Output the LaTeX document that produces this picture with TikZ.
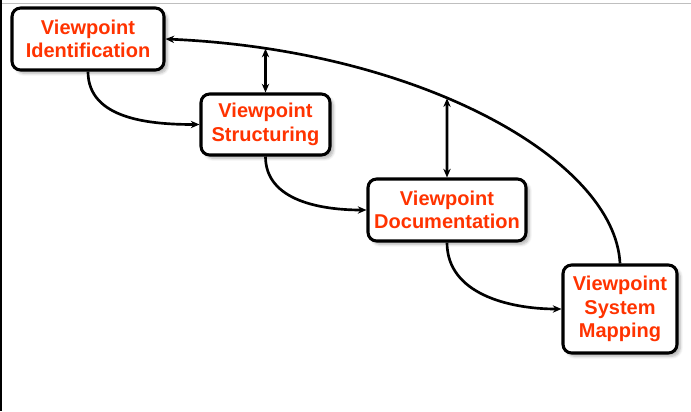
\documentclass[tikz,border=0pt]{standalone}
\usepackage{fontspec}
\setmainfont{Liberation Sans}
\usetikzlibrary{arrows.meta,intersections,shadows.blur}
\definecolor{vptext}{RGB}{255,51,0}
\tikzset{
  vpbox/.style={draw=black, line width=2.3pt, rounded corners=6.5pt, fill=white,
    align=center, inner sep=0pt, text=vptext,
    font=\fontsize{15}{17.5}\selectfont\bfseries,
    blur shadow={shadow xshift=2.5pt, shadow yshift=-2.5pt, shadow blur steps=6, shadow opacity=30}},
  vpflow/.style={line width=2pt, -{Stealth[length=6.5pt,width=5.5pt]}},
  vpdouble/.style={line width=2pt, {Stealth[length=6.5pt,width=5.5pt]}-{Stealth[length=6.5pt,width=5.5pt]}},
}
\begin{document}
\begin{tikzpicture}[x=0.75pt,y=-0.75pt]
\useasboundingbox (0,0) rectangle (691,411);
\draw[line width=1.2pt, black!25] (0,3.5) -- (691,3.5);
\draw[line width=1.5pt, black] (0.75,0) -- (0.75,411);

\node[vpbox, minimum width=114pt, minimum height=46.5pt] (n1) at (88,39) {Viewpoint\\Identification};
\node[vpbox, minimum width=96.75pt, minimum height=45.75pt] (n2) at (265.5,124.5) {Viewpoint\\Structuring};
\node[vpbox, minimum width=118.5pt, minimum height=46.5pt] (n3) at (447,210) {Viewpoint\\Documentation};
\node[vpbox, minimum width=85.5pt, minimum height=66pt] (n4) at (620,309) {Viewpoint\\System\\Mapping};

\draw[vpflow] (n1.south) to[out=-90,in=180] (n2.west);
\draw[vpflow] (n2.south) to[out=-90,in=180] (n3.west);
\draw[vpflow] (n3.south) to[out=-90,in=180] (n4.west);

\draw[vpflow, name path=arc] (n4.north) .. controls (615,160) and (420,50) .. (n1.east);

\path[name path=v2] (n2.north) -- ++(0,-120);
\path[name path=v3] (n3.north) -- ++(0,-150);
\path[name intersections={of=arc and v2, by=a2}];
\path[name intersections={of=arc and v3, by=a3}];
\coordinate (t2) at (a2);
\coordinate (t3) at (a3);
\draw[vpdouble] (t2) -- (n2.north);
\draw[vpdouble] (t3) -- (n3.north);
\end{tikzpicture}
\end{document}
